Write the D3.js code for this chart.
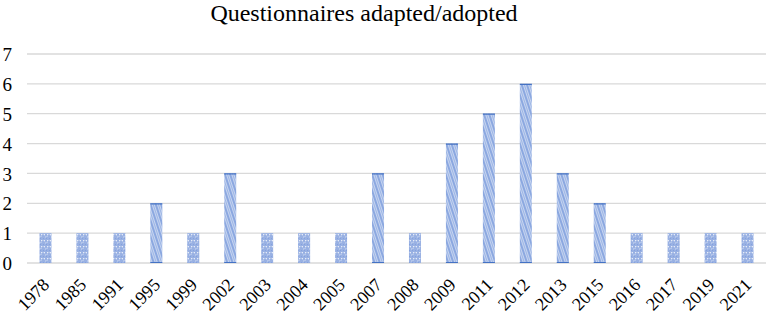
<!DOCTYPE html>
<html>
<head>
<meta charset="utf-8">
<script src="https://cdn.jsdelivr.net/npm/d3@7"></script>
<style>
  body { margin: 0; background: #fff; }
  text { font-family: "Liberation Serif", "Times New Roman", serif; fill: #000; }
</style>
</head>
<body>
<div id="chart-container"></div>
<script>
// chart data
const years = ["1978", "1985", "1991", "1995", "1999", "2002", "2003", "2004", "2005", "2007",
               "2008", "2009", "2011", "2012", "2013", "2015", "2016", "2017", "2019", "2021"];
const counts = [1, 1, 1, 2, 1, 3, 1, 1, 1, 3, 1, 4, 5, 6, 3, 2, 1, 1, 1, 1];
const yTicks = [0, 1, 2, 3, 4, 5, 6, 7];
const chartTitle = "Questionnaires adapted/adopted";

const data = years.map((y, i) => ({year: y, value: counts[i]}));

const W = 767, H = 317;
const margin = {top: 54, right: 1, bottom: 54, left: 27},
    width = W - margin.left - margin.right,
    height = H - margin.top - margin.bottom;

const svg = d3.select("#chart-container")
    .append("svg")
    .attr("width", W)
    .attr("height", H);

// fill patterns: speckled for single counts, diagonal strokes for the rest
const defs = svg.append("defs");
const dots = defs.append("pattern")
    .attr("id", "dots")
    .attr("patternUnits", "userSpaceOnUse")
    .attr("width", 6).attr("height", 6);
dots.append("rect").attr("width", 6).attr("height", 6).attr("fill", "#b3c5ea");
[[0.5,0.5],[3.5,1.5],[1.5,3.5],[4.5,4.5],[2.5,5.5],[5.5,2.5],[0.5,4.5],[3.5,3.5]].forEach(p => {
    dots.append("rect").attr("x", p[0]).attr("y", p[1]).attr("width", 1).attr("height", 1)
        .attr("fill", "#4a76cf");
});
dots.append("rect").attr("x", 2).attr("y", 0).attr("width", 1).attr("height", 1).attr("fill", "#e6ecf8");
dots.append("rect").attr("x", 5).attr("y", 0).attr("width", 1).attr("height", 1).attr("fill", "#e6ecf8");

const hatch = defs.append("pattern")
    .attr("id", "hatch")
    .attr("patternUnits", "userSpaceOnUse")
    .attr("width", 5).attr("height", 5)
    .attr("patternTransform", "rotate(-18)");
hatch.append("rect").attr("width", 5).attr("height", 5).attr("fill", "#c6d4f0");
hatch.append("line").attr("x1", 1).attr("y1", 0).attr("x2", 1).attr("y2", 5)
    .attr("stroke", "#5b84d4").attr("stroke-width", 1.1);
hatch.append("line").attr("x1", 3.5).attr("y1", 0).attr("x2", 3.5).attr("y2", 5)
    .attr("stroke", "#93aee2").attr("stroke-width", 0.8);

const g = svg.append("g")
    .attr("transform", `translate(${margin.left},${margin.top})`);

// title
svg.append("text")
    .attr("x", 364)
    .attr("y", 21)
    .attr("text-anchor", "middle")
    .style("font-size", "24px")
    .text(chartTitle);

const x = d3.scaleBand()
    .range([0, width])
    .domain(years)
    .paddingInner(0.675)
    .paddingOuter(0.3375);

const y = d3.scaleLinear()
    .domain([0, 7])
    .range([height, 0]);

// gridlines
g.append("g")
    .selectAll("line")
    .data(yTicks)
    .join("line")
    .attr("x1", 0)
    .attr("x2", width)
    .attr("y1", d => y(d))
    .attr("y2", d => y(d))
    .attr("stroke", "#d9d9d9")
    .attr("stroke-width", 1.3);

// y axis labels
const yAxis = g.append("g")
    .call(d3.axisLeft(y).tickValues(yTicks).tickFormat(d3.format("d")).tickSize(0).tickPadding(15));
yAxis.select(".domain").remove();
yAxis.selectAll("text")
    .style("font-size", "19px")
    .attr("dy", "0.35em");

// bars
g.selectAll(".bar")
    .data(data)
    .join("rect")
    .attr("class", "bar")
    .attr("x", d => x(d.year))
    .attr("y", d => y(d.value))
    .attr("width", x.bandwidth())
    .attr("height", d => y(0) - y(d.value))
    .attr("fill", d => d.value > 1 ? "url(#hatch)" : "url(#dots)");

// thin top/bottom edges on taller bars
g.selectAll(".edge")
    .data(data.filter(d => d.value > 1))
    .join("path")
    .attr("class", "edge")
    .attr("d", d => `M${x(d.year)},${y(d.value) + 0.5}h${x.bandwidth()}M${x(d.year)},${y(0) - 0.5}h${x.bandwidth()}`)
    .attr("stroke", "#4472c4")
    .attr("stroke-width", 1.2)
    .attr("fill", "none");

// x axis labels rotated
const xAxis = g.append("g")
    .attr("transform", `translate(0, ${height})`)
    .call(d3.axisBottom(x).tickSize(0));
xAxis.select(".domain").remove();
xAxis.selectAll("text")
    .style("font-size", "18px")
    .attr("y", 0)
    .attr("dy", 0)
    .attr("transform", "translate(5,23)rotate(-45)")
    .style("text-anchor", "end");
</script>
</body>
</html>
